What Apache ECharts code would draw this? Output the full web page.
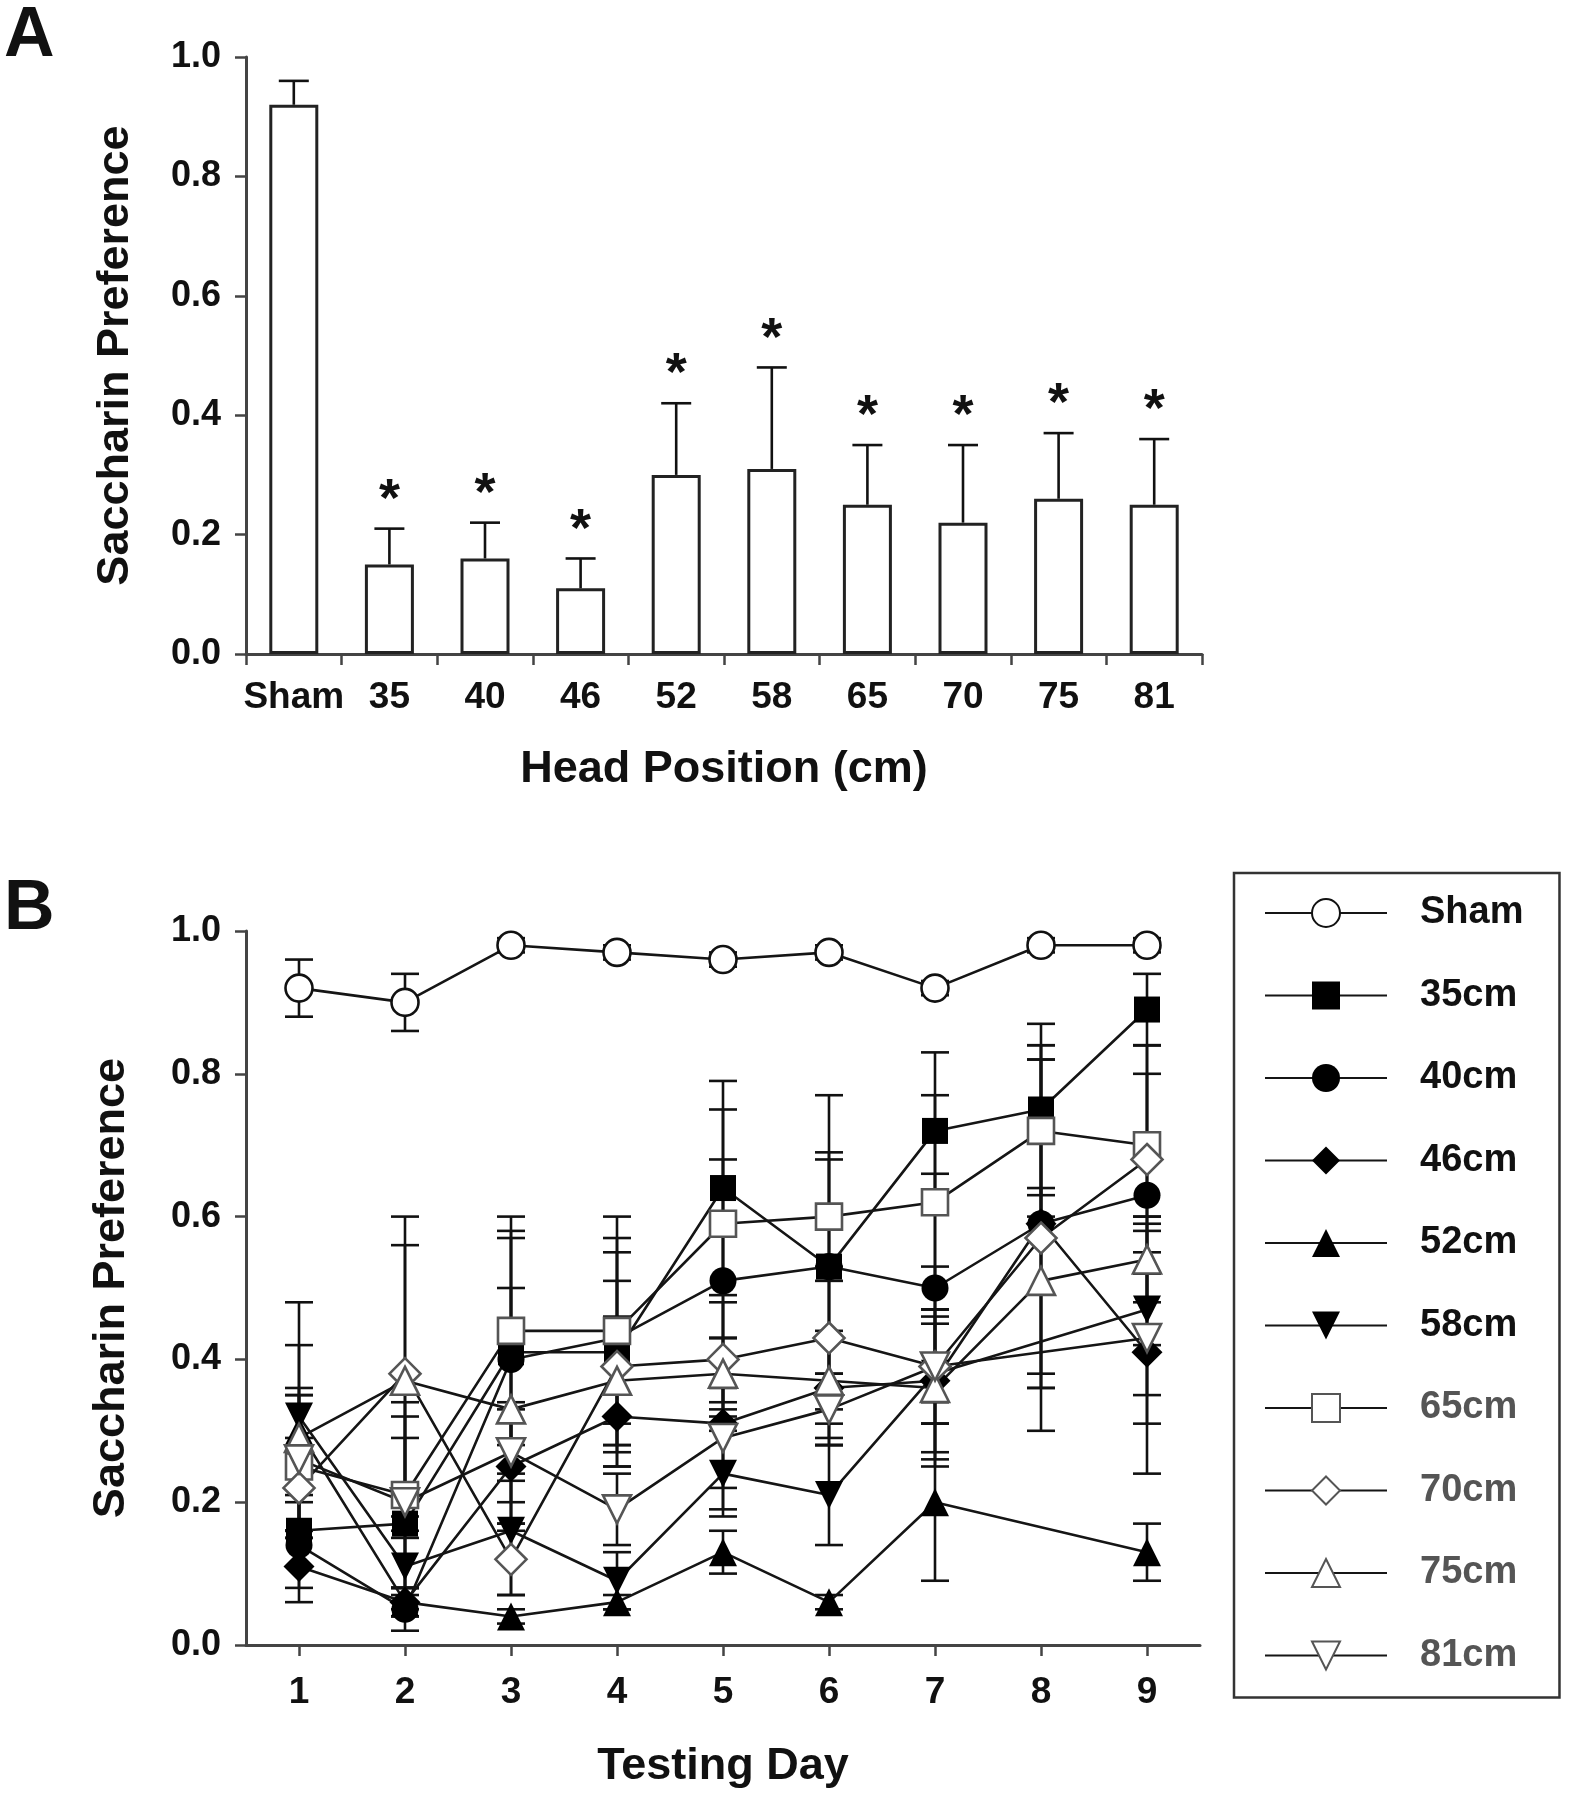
<!DOCTYPE html>
<html><head><meta charset="utf-8">
<script src="https://cdn.jsdelivr.net/npm/echarts@6/dist/echarts.min.js"></script>
<style>html,body{margin:0;padding:0;background:#fff}#c{width:1569px;height:1800px}</style>
</head><body><div id="c"></div>
<script>
// ---------- Panel A data ----------
const positions = ['Sham', '35', '40', '46', '52', '58', '65', '70', '75', '81'];
const prefMean  = [0.92, 0.15, 0.16, 0.11, 0.30, 0.31, 0.25, 0.22, 0.26, 0.25];
const prefErr   = [0.04, 0.06, 0.06, 0.05, 0.12, 0.17, 0.10, 0.13, 0.11, 0.11];
const significant = [false, true, true, true, true, true, true, true, true, true];

// ---------- Panel B data ----------
const days = ['1', '2', '3', '4', '5', '6', '7', '8', '9'];
const sham  = [0.92, 0.90, 0.98, 0.97, 0.96, 0.97, 0.92, 0.98, 0.98];
const shamErr = [0.04, 0.04, 0.01, 0.01, 0.01, 0.01, 0.01, 0.01, 0.01];
const cm35  = [0.16, 0.17, 0.41, 0.41, 0.64, 0.53, 0.72, 0.75, 0.89];
const err35 = [0.05, 0.12, 0.17, 0.16, 0.15, 0.24, 0.11, 0.12, 0.05];
const cm40  = [0.14, 0.05, 0.40, 0.43, 0.51, 0.53, 0.50, 0.59, 0.63];
const err40 = [0.06, 0.03, 0.17, 0.12, 0.17, 0.15, 0.16, 0.23, 0.21];
const cm46  = [0.11, 0.06, 0.25, 0.32, 0.31, 0.36, 0.37, 0.59, 0.41];
const err46 = [0.05, 0.02, 0.08, 0.07, 0.12, 0.08, 0.10, 0.23, 0.17];
const cm52  = [0.30, 0.06, 0.04, 0.06, 0.13, 0.06, 0.20, null, 0.13];
const err52 = [0.05, 0.02, 0.01, 0.01, 0.03, 0.01, 0.11, null, 0.04];
const cm58  = [0.32, 0.11, 0.16, 0.09, 0.24, 0.21, 0.38, null, 0.47];
const err58 = [0.16, 0.04, 0.09, 0.04, 0.06, 0.07, 0.07, null, 0.12];
const cm65  = [0.25, 0.21, 0.44, 0.44, 0.59, 0.60, 0.62, 0.72, 0.70];
const err65 = [0.10, 0.13, 0.16, 0.16, 0.16, 0.09, 0.15, 0.12, 0.10];
const cm70  = [0.22, 0.38, 0.12, 0.39, 0.40, 0.43, 0.39, 0.57, 0.68];
const err70 = [0.07, 0.22, 0.05, 0.12, 0.08, 0.10, 0.14, 0.27, 0.16];
const cm75  = [0.29, 0.37, 0.33, 0.37, 0.38, 0.37, 0.36, 0.51, 0.54];
const err75 = [0.13, 0.19, 0.17, 0.09, 0.05, 0.06, 0.10, 0.13, 0.06];
const cm81  = [0.26, 0.20, 0.27, 0.19, 0.29, 0.33, 0.39, null, 0.43];
const err81 = [0.10, 0.12, 0.07, 0.05, 0.07, 0.05, 0.08, null, 0.12];

const FONT = '"Liberation Sans", Arial, Helvetica, sans-serif';
const INK = '#111';
const AXIS = '#444';

const groups = [
  {name: 'Sham', data: sham, err: shamErr, symbol: 'circle',   size: 27, rot: 0,   filled: false, stroke: '#111', text: '#111'},
  {name: '35cm', data: cm35, err: err35,   symbol: 'rect',     size: 26, rot: 0,   filled: true,  stroke: '#000', text: '#111'},
  {name: '40cm', data: cm40, err: err40,   symbol: 'circle',   size: 27, rot: 0,   filled: true,  stroke: '#000', text: '#111'},
  {name: '46cm', data: cm46, err: err46,   symbol: 'diamond',  size: 31, rot: 0,   filled: true,  stroke: '#000', text: '#111'},
  {name: '52cm', data: cm52, err: err52,   symbol: 'triangle', size: 28, rot: 0,   filled: true,  stroke: '#000', text: '#111'},
  {name: '58cm', data: cm58, err: err58,   symbol: 'triangle', size: 28, rot: 180, filled: true,  stroke: '#000', text: '#111'},
  {name: '65cm', data: cm65, err: err65,   symbol: 'rect',     size: 26, rot: 0,   filled: false, stroke: '#555', text: '#555'},
  {name: '70cm', data: cm70, err: err70,   symbol: 'diamond',  size: 31, rot: 0,   filled: false, stroke: '#555', text: '#555'},
  {name: '75cm', data: cm75, err: err75,   symbol: 'triangle', size: 28, rot: 0,   filled: false, stroke: '#555', text: '#555'},
  {name: '81cm', data: cm81, err: err81,   symbol: 'triangle', size: 28, rot: 180, filled: false, stroke: '#555', text: '#555'}
];

function errBarRender(halfCap, upperOnly) {
  return function (params, api) {
    const x = api.value(0), lo = api.value(1), hi = api.value(2);
    const p1 = api.coord([x, lo]);
    const p2 = api.coord([x, hi]);
    const style = {stroke: INK, lineWidth: 2.6, fill: null};
    const children = [
      {type: 'line', shape: {x1: p1[0], y1: p1[1], x2: p2[0], y2: p2[1]}, style: style},
      {type: 'line', shape: {x1: p2[0] - halfCap, y1: p2[1], x2: p2[0] + halfCap, y2: p2[1]}, style: style}
    ];
    if (!upperOnly) {
      children.push({type: 'line', shape: {x1: p1[0] - halfCap, y1: p1[1], x2: p1[0] + halfCap, y2: p1[1]}, style: style});
    }
    if (upperOnly && api.value(3) === 1) {
      const ps = api.coord([x, hi + 0.06]);
      children.push({type: 'text', x: ps[0], y: ps[1] + 8,
        style: {text: '*', font: 'bold 54px ' + FONT, fill: INK, align: 'center', verticalAlign: 'middle'}});
    }
    return {type: 'group', children: children};
  };
}

const series = [];
// Panel A bars
series.push({
  type: 'bar', name: 'Saccharin preference', xAxisIndex: 0, yAxisIndex: 0,
  data: prefMean, barWidth: 49,
  itemStyle: {color: '#fff', borderColor: '#222', borderWidth: 3},
  z: 2, silent: true
});
series.push({
  type: 'custom', name: 'A errors', xAxisIndex: 0, yAxisIndex: 0,
  renderItem: errBarRender(15, true),
  encode: {x: 0, y: [1, 2]},
  data: prefMean.map((v, i) => [i, v, v + prefErr[i], significant[i] ? 1 : 0]),
  z: 3, silent: true
});

// Panel B error bars and lines
groups.forEach(g => {
  const ed = [];
  g.data.forEach((v, i) => { if (v != null) ed.push([i, v - g.err[i], v + g.err[i]]); });
  series.push({
    type: 'custom', name: g.name + ' error', xAxisIndex: 1, yAxisIndex: 1,
    renderItem: errBarRender(14, false), encode: {x: 0, y: [1, 2]},
    data: ed, z: 1, silent: true
  });
});
groups.forEach(g => {
  series.push({
    type: 'line', name: g.name, xAxisIndex: 1, yAxisIndex: 1,
    data: g.data, connectNulls: true,
    symbol: g.symbol, symbolSize: g.size, symbolRotate: g.rot, showAllSymbol: true,
    lineStyle: {color: '#151515', width: 2.6},
    itemStyle: {color: g.filled ? '#000' : '#fff', borderColor: g.stroke, borderWidth: g.filled ? 0 : 2.6},
    emphasis: {disabled: true}, z: 3
  });
});

const valueAxisCommon = {
  type: 'value', min: 0, max: 1, interval: 0.2,
  axisLine: {show: true, lineStyle: {color: AXIS, width: 3}},
  axisTick: {show: true, length: 11, lineStyle: {color: AXIS, width: 2.5}},
  axisLabel: {formatter: v => v.toFixed(1), fontSize: 36, fontWeight: 'bold', color: INK, fontFamily: FONT, margin: 25},
  splitLine: {show: false},
  nameLocation: 'middle', nameRotate: 90,
  nameTextStyle: {fontSize: 45, fontWeight: 'bold', color: INK, fontFamily: FONT}
};

const option = {
  animation: false,
  backgroundColor: '#fff',
  textStyle: {fontFamily: FONT},
  grid: [
    {left: 246, right: 367, top: 57, height: 597},
    {left: 246, right: 369, top: 931, height: 714}
  ],
  xAxis: [
    {
      type: 'category', gridIndex: 0, data: positions, boundaryGap: true,
      axisLine: {show: true, lineStyle: {color: AXIS, width: 3}},
      axisTick: {show: true, length: 11, interval: 0, lineStyle: {color: AXIS, width: 2.5}},
      axisLabel: {interval: 0, fontSize: 37, fontWeight: 'bold', color: INK, fontFamily: FONT, margin: 25},
      name: 'Head Position (cm)', nameLocation: 'middle', nameGap: 93,
      nameTextStyle: {fontSize: 45, fontWeight: 'bold', color: INK, fontFamily: FONT}
    },
    {
      type: 'category', gridIndex: 1, data: days, boundaryGap: true,
      axisLine: {show: true, lineStyle: {color: AXIS, width: 3}},
      axisTick: {show: true, length: 11, alignWithLabel: true, interval: 0, lineStyle: {color: AXIS, width: 2.5}},
      axisLabel: {interval: 0, fontSize: 37, fontWeight: 'bold', color: INK, fontFamily: FONT, margin: 29},
      name: 'Testing Day', nameLocation: 'middle', nameGap: 99,
      nameTextStyle: {fontSize: 45, fontWeight: 'bold', color: INK, fontFamily: FONT}
    }
  ],
  yAxis: [
    Object.assign({}, valueAxisCommon, {gridIndex: 0, name: 'Saccharin Preference', nameGap: 108}),
    Object.assign({}, valueAxisCommon, {gridIndex: 1, name: 'Saccharin Preference', nameGap: 112})
  ],
  legend: {
    orient: 'vertical', left: 1234, top: 873,
    padding: [20, 36, 22, 30],
    borderColor: '#333', borderWidth: 2.5,
    itemWidth: 122, itemHeight: 35, itemGap: 42.5,
    selectedMode: false,
    textStyle: {fontSize: 38, fontWeight: 'bold', fontFamily: FONT, lineHeight: 40, padding: [0, 0, 0, 28]},
    data: groups.map(g => ({name: g.name, textStyle: {color: g.text}}))
  },
  graphic: [
    {type: 'text', left: 4, top: 2, style: {text: 'A', font: 'bold 70px ' + FONT, fill: INK}},
    {type: 'text', left: 4, top: 875, style: {text: 'B', font: 'bold 70px ' + FONT, fill: INK}}
  ],
  series: series
};

const chart = echarts.init(document.getElementById('c'), null, {renderer: 'canvas'});
chart.setOption(option);
</script>
</body></html>
